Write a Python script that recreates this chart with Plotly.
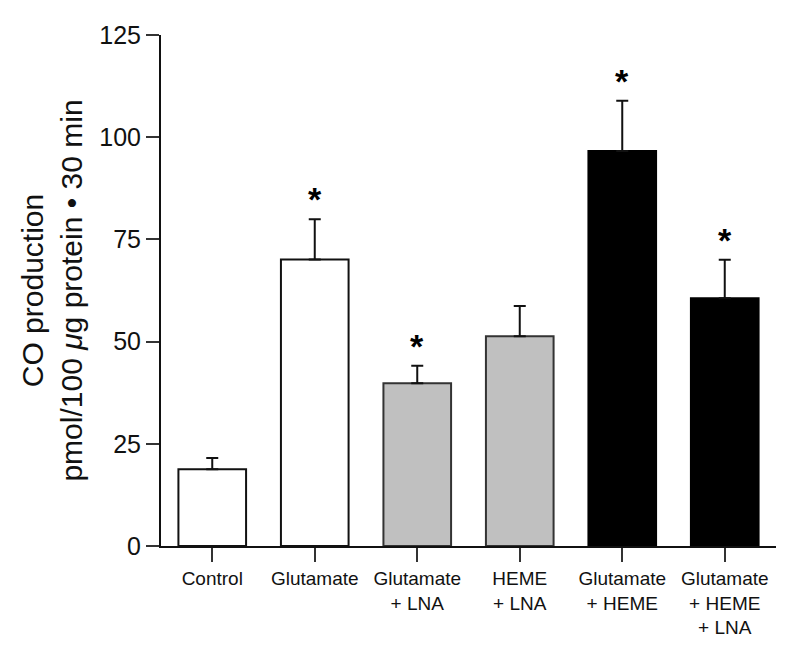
import plotly.graph_objects as go

categories = ["Control", "Glutamate", "Glutamate<br>+ LNA", "HEME<br>+ LNA",
              "Glutamate<br>+ HEME", "Glutamate<br>+ HEME<br>+ LNA"]
means = [18.8, 70.1, 39.8, 51.3, 96.6, 60.6]
errors = [2.7, 9.8, 4.3, 7.4, 12.3, 9.4]
significant = [False, True, True, False, True, True]
fill_colors = ["#ffffff", "#ffffff", "#c0c0c0", "#c0c0c0", "#000000", "#000000"]
line_colors = ["#111111", "#111111", "#333333", "#333333", "#000000", "#000000"]
y_ticks = [0, 25, 50, 75, 100, 125]

fig = go.Figure()
fig.add_trace(go.Bar(
    x=categories, y=means, width=0.66,
    marker=dict(color=fill_colors, line=dict(color=line_colors, width=2)),
    error_y=dict(type="data", array=errors, arrayminus=[0] * len(errors),
                 symmetric=False, color="#111111", thickness=2, width=6),
    showlegend=False,
))

for cat, m, e, s in zip(categories, means, errors, significant):
    if s:
        fig.add_annotation(x=cat, y=m + e, text="<b>*</b>", showarrow=False,
                           yanchor="bottom", yshift=-1,
                           font=dict(size=34, color="#000000", family="Arial"))

fig.update_layout(
    width=800, height=655,
    margin=dict(l=153, r=32, t=27, b=117),
    plot_bgcolor="white", paper_bgcolor="white",
    font=dict(family="Arial, Liberation Sans, Helvetica, sans-serif", color="#111111"),
    xaxis=dict(range=[-0.5, 5.5], showline=True, linecolor="#111111", linewidth=2,
               ticks="outside", ticklen=14, tickwidth=1.5, tickcolor="#333333",
               tickfont=dict(size=19), showgrid=False, zeroline=False),
    yaxis=dict(range=[0, 125], tickvals=y_ticks, showline=True, linecolor="#111111",
               linewidth=2, ticks="outside", ticklen=13, tickwidth=1.5, tickcolor="#333333",
               tickfont=dict(size=25), showgrid=False, zeroline=False,
               title=dict(text="CO production<br>pmol/100 <i>μ</i>g protein • 30 min",
                          font=dict(size=30), standoff=8)),
)

fig.write_html("out.html")
